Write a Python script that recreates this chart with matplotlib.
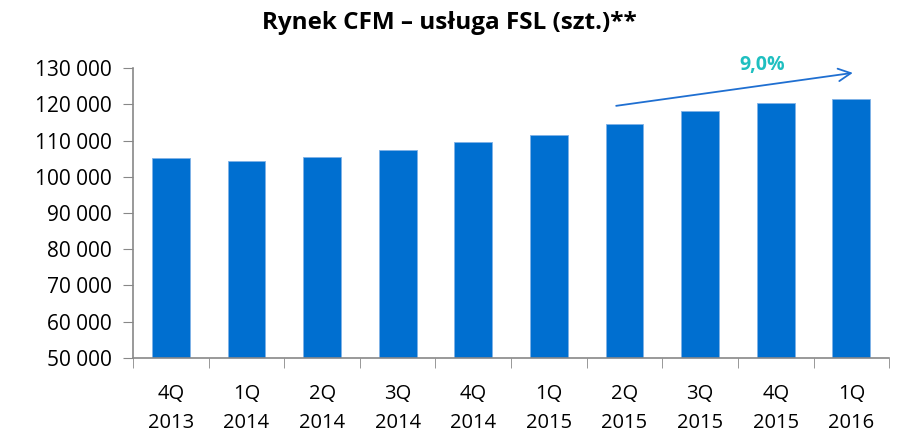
import matplotlib.pyplot as plt
from matplotlib.ticker import FuncFormatter, FixedLocator

quarters = ['4Q\n2013', '1Q\n2014', '2Q\n2014', '3Q\n2014', '4Q\n2014',
            '1Q\n2015', '2Q\n2015', '3Q\n2015', '4Q\n2015', '1Q\n2016']
fsl_units = [105100, 104400, 105600, 107400, 109600,
             111600, 114500, 118100, 120300, 121600]
growth_label = '9,0%'

plt.rcParams['font.family'] = ['Open Sans', 'DejaVu Sans']

fig = plt.figure(figsize=(8.99, 4.37), dpi=100)
ax = fig.add_axes([0.148, 0.181, 0.841, 0.663])

x = list(range(len(quarters)))
ax.bar(x, fsl_units, width=0.5, color='#006fd0', edgecolor='#7fb2e6', linewidth=0.6, zorder=2)

ax.set_xlim(-0.5, len(quarters) - 0.5)
ax.set_ylim(50000, 130000)
ax.set_yticks(range(50000, 130001, 10000))
ax.yaxis.set_major_formatter(FuncFormatter(lambda v, p: f'{int(v):,}'.replace(',', ' ')))

ax.set_xticks(x)
ax.set_xticklabels(quarters, fontsize=14.5, linespacing=1.55)
ax.xaxis.set_minor_locator(FixedLocator([i - 0.5 for i in range(len(quarters) + 1)]))
ax.tick_params(axis='x', which='major', length=0, pad=19)
ax.tick_params(axis='x', which='minor', length=7, color='#888888', direction='out')
ax.tick_params(axis='y', length=7, color='#888888', labelsize=15, pad=8)

for s in ['top', 'right']:
    ax.spines[s].set_visible(False)
for s in ['left', 'bottom']:
    ax.spines[s].set_color('#888888')
    ax.spines[s].set_linewidth(1.2)

# growth arrow between 1Q 2015 and 1Q 2016
ax.annotate('', xy=(9.02, 128700), xytext=(5.89, 119600),
            arrowprops=dict(arrowstyle='->,head_length=0.9,head_width=0.45',
                            color='#1f6fd1', lw=1.3, shrinkA=0, shrinkB=0))
ax.text(7.82, 130900, growth_label, color='#1fbfc0', fontsize=14, fontweight='bold',
        ha='center', va='center', clip_on=False)

fig.suptitle('Rynek CFM – usługa FSL (szt.)**', x=0.5, y=0.975, fontsize=17.5, fontweight='bold')

fig.savefig('out.png', dpi=100)
